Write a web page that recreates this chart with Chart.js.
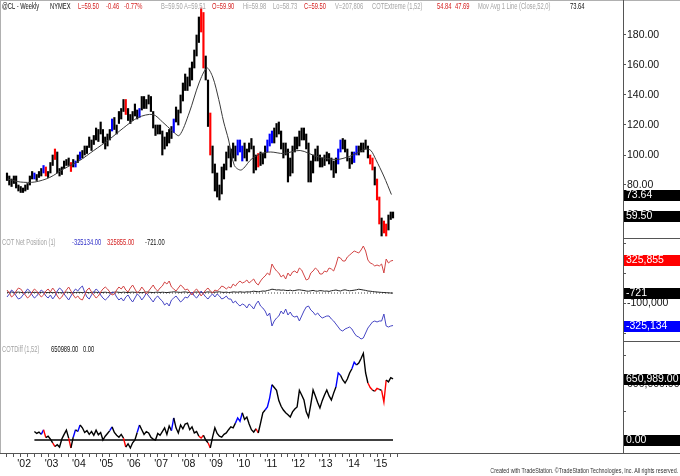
<!DOCTYPE html>
<html>
<head>
<meta charset="utf-8">
<title>@CL Weekly</title>
<script src="https://cdn.jsdelivr.net/npm/chart.js@4.4.1/dist/chart.umd.min.js"></script>
<style>
  html, body { margin: 0; padding: 0; background: #fff; }
  body { width: 680px; height: 476px; position: relative; overflow: hidden; font-family: Arial, "Liberation Sans", sans-serif; }
  canvas { position: absolute; left: 0; top: 0; }
  .t { position: absolute; white-space: nowrap; font-size: 8.5px; line-height: 10px; transform: scaleX(0.68); transform-origin: 0 50%; }
  .g { color: #a4a4a4; } .r { color: #d42020; } .k { color: #111; } .b { color: #3030c8; }
  .foot { position: absolute; right: 2px; top: 466px; font-size: 7px; line-height: 9px; color: #333; white-space: nowrap; transform: scaleX(0.76); transform-origin: 100% 50%; }
</style>
</head>
<body>
<canvas id="chart" width="680" height="476"></canvas>

<div class="t k" style="left:2px;top:1px">@CL - Weekly</div>
<div class="t k" style="left:50px;top:1px">NYMEX</div>
<div class="t r" style="left:78px;top:1px">L=59.50</div>
<div class="t r" style="left:106px;top:1px">-0.46</div>
<div class="t r" style="left:124px;top:1px">-0.77%</div>
<div class="t g" style="left:161px;top:1px">B=59.50</div>
<div class="t g" style="left:184px;top:1px">A=59.51</div>
<div class="t r" style="left:212px;top:1px">O=59.90</div>
<div class="t g" style="left:243px;top:1px">Hi=59.98</div>
<div class="t g" style="left:273px;top:1px">Lo=58.73</div>
<div class="t r" style="left:304px;top:1px">C=59.50</div>
<div class="t g" style="left:335px;top:1px">V=207,806</div>
<div class="t g" style="left:372px;top:1px">COTExtreme (1,52)</div>
<div class="t r" style="left:437px;top:1px">54.84</div>
<div class="t r" style="left:455px;top:1px">47.69</div>
<div class="t g" style="left:478px;top:1px">Mov Avg 1 Line (Close,52,0)</div>
<div class="t k" style="left:570px;top:1px">73.64</div>

<div class="t g" style="left:2px;top:237px">COT Net Position (1)</div>
<div class="t b" style="left:72px;top:237px">-325134.00</div>
<div class="t r" style="left:107px;top:237px">325855.00</div>
<div class="t k" style="left:145px;top:237px">-721.00</div>

<div class="t g" style="left:2px;top:344px">COTDiff (1,52)</div>
<div class="t k" style="left:51px;top:344px">650989.00</div>
<div class="t k" style="left:83px;top:344px">0.00</div>

<div class="foot">Created with TradeStation. ©TradeStation Technologies, Inc. All rights reserved.</div>

<script>
const firstMonth = 2001 + 4 / 12;

const priceHigh = [
  88, 86, 84, 86, 86, 80, 79, 78,
  80, 81, 86, 89, 88, 87, 89, 91, 93, 92, 89, 95,
  100, 104, 102, 91, 92, 96, 97, 98, 95, 97, 96, 100,
  102, 103, 106, 106, 112, 110, 113, 118, 117, 122, 117, 112,
  114, 117, 124, 125, 120, 129, 131, 137, 137, 131, 127, 129,
  134, 130, 131, 139, 139, 137, 140, 139, 129, 120, 120, 120,
  116, 112, 115, 117, 119, 124, 132, 130, 140, 148, 154, 152,
  158, 162, 170, 180, 192, 198, 195, 166, 150, 128, 106, 94,
  88, 80, 92, 94, 102, 106, 104, 108, 106, 110, 110, 106,
  108, 104, 108, 111, 106, 100, 101, 102, 101, 106, 110, 114,
  116, 118, 121, 122, 116, 108, 108, 104, 98, 106, 112, 112,
  116, 118, 118, 114, 108, 96, 100, 104, 106, 100, 98, 100,
  102, 101, 98, 96, 98, 104, 110, 111, 110, 104, 98, 102,
  102, 106, 106, 108, 108, 110, 106, 100, 98, 92, 84, 72,
  58, 56, 54, 60, 62, 62,
];

const priceLow = [
  83, 80, 79, 81, 78, 76, 75, 75,
  76, 77, 80, 84, 84, 83, 85, 86, 88, 86, 85, 88,
  93, 97, 88, 86, 87, 91, 93, 93, 89, 92, 92, 95,
  97, 98, 100, 101, 105, 103, 107, 110, 109, 114, 108, 104,
  106, 110, 116, 117, 114, 121, 124, 129, 127, 123, 121, 123,
  126, 124, 125, 130, 131, 131, 134, 129, 118, 113, 114, 114,
  100, 104, 106, 108, 111, 115, 122, 120, 128, 136, 143, 143,
  146, 150, 158, 166, 175, 182, 158, 150, 119, 100, 88, 76,
  72, 70, 74, 84, 90, 98, 92, 98, 96, 100, 102, 96,
  98, 96, 102, 104, 88, 90, 92, 93, 94, 98, 102, 106,
  108, 108, 112, 114, 104, 98, 100, 82, 86, 88, 102, 104,
  106, 110, 110, 104, 82, 82, 88, 96, 96, 92, 92, 93,
  96, 94, 90, 85, 88, 94, 102, 104, 102, 96, 91, 94,
  95, 100, 100, 102, 102, 104, 98, 94, 90, 80, 70, 54,
  46, 48, 46, 50, 57, 58,
];
const lastClose = 59.50;

// COTExtreme flags (month index): blue = extreme high, red = extreme low
const blueMonths = [12, 16, 30, 32, 46, 58, 73, 101, 102, 103, 114, 115, 116, 145, 146, 152, 153];
const redMonths = [17, 21, 28, 52, 85, 86, 89, 110, 159, 160, 162, 163, 165, 166];

// 52 week moving average
const maTimes = [2001.39, 2001.86, 2002.39, 2002.93, 2003.47, 2004.0, 2004.54, 2005.08, 2005.62, 2006.16,
  2006.7, 2007.05, 2007.41, 2007.66, 2008.02, 2008.38, 2008.67, 2008.88, 2009.1, 2009.28,
  2009.46, 2009.67, 2009.92, 2010.28, 2010.64, 2011.0, 2011.46, 2012.07, 2012.68, 2013.4,
  2013.86, 2014.11, 2014.47, 2014.65, 2014.83, 2015.12, 2015.4];
const maValues = [84, 82, 82, 85, 91, 96, 103, 110, 118, 125,
  127, 122, 116, 113, 128, 148, 158, 152, 137, 122,
  110, 93, 90, 97, 101, 102, 101, 103, 99, 97,
  99, 101, 104, 103, 97, 86, 73.64];

// COT net positions, thousands of contracts
const cotRed = [
  30, 0, -40, -20, 20, 50, 40, 10,
  -20, -50, -30, 10, 40, 20, -10, -40, -20, 20, 40, 10,
  50, 20, -30, -60, -40, 0, 30, 60, 20, -20, -50, -30,
  -60, -70, -20, 30, 50, 10, -20, -50, -30, 10, 40, 60,
  40, 10, -20, -10, 30, 60, 40, 70, 30, 10, 50, 80,
  40, 0, 20, 60, 30, -10, 20, 50, 80, 40, 20, 50,
  70, 110, 90, 120, 60, 40, 20, 50, 80, 60, 30, 40,
  10, -20, 20, 40, 10, -30, 0, 30, 50, 20, 0, 30,
  20, 40, 70, 60, 40, 60, 50, 90, 70, 100, 120, 100,
  110, 130, 100, 120, 140, 100, 80, 120, 150, 170, 200, 180,
  290, 250, 220, 200, 160, 180, 140, 200, 170, 210, 220, 200,
  250, 230, 180, 130, 140, 200, 220, 250, 230, 190, 190, 220,
  210, 250, 240, 220, 280, 360, 350, 320, 320, 360, 380, 400,
  420, 410, 400, 430, 470, 420, 330, 300, 290, 270, 280, 270,
  290, 200, 340, 300, 320, 325.855,
];
const cotBlue = [
  -40, -10, 30, 10, -30, -60, -50, -20,
  10, 40, 20, -20, -50, -30, 0, 30, 10, -30, -50, -20,
  -60, -30, 20, 50, 30, -10, -40, -70, -30, 10, 40, 20,
  50, 70, 10, -40, -60, -20, 10, 40, 20, -20, -50, -70,
  -50, -20, 10, 0, -40, -70, -50, -80, -40, -20, -60, -90,
  -50, -10, -30, -70, -40, 0, -30, -60, -90, -50, -30, -60,
  -80, -120, -100, -130, -70, -50, -30, -60, -90, -70, -40, -50,
  -20, 10, -30, -50, -20, 20, -10, -40, -60, -30, -10, -40,
  -10, -30, -60, -50, -30, -60, -60, -100, -80, -110, -130, -110,
  -120, -150, -110, -130, -160, -110, -80, -130, -150, -180, -230, -200,
  -330, -280, -250, -230, -180, -210, -160, -220, -190, -230, -240, -230,
  -280, -230, -180, -140, -130, -170, -190, -220, -200, -230, -250, -240,
  -230, -230, -260, -280, -310, -340, -370, -380, -360, -350, -340, -360,
  -400, -430, -440, -460, -450, -400, -350, -320, -290, -280, -290, -280,
  -280, -210, -330, -340, -330, -325.134,
];
const cotBlack = [
  8, 6, 10, 5, 7, 9, 6, 4,
  5, 8, 6, 4, 7, 5, 3, 6, 8, 5, 4, 6,
  3, 5, 7, 4, 2, 5, 8, 6, 4, 3, 5, 7,
  6, 4, 8, 5, 3, 6, 9, 7, 5, 4, 6, 8,
  5, 3, 6, 8, 10, 7, 5, 9, 6, 4, 7, 9,
  6, 8, 5, 3, 7, 10, 8, 6, 4, 7, 9, 5,
  8, 6, 4, 7, 9, 12, 10, 8, 6, 9, 11, 7,
  5, 3, 7, 10, 8, 6, 4, 8, 11, 9, 6, 8,
  10, 12, 8, 6, 9, 5, 7, 11, 10, 8, 12, 9,
  8, 12, 10, 14, 18, 15, 12, 16, 20, 18, 25, 30,
  38, 35, 30, 32, 28, 30, 26, 24, 28, 22, 25, 30,
  32, 28, 25, 20, 18, 22, 26, 20, 18, 24, 22, 18,
  20, 16, 22, 26, 30, 24, 20, 28, 32, 26, 22, 25,
  28, 32, 38, 34, 30, 26, 20, 18, 15, 12, 10, 8,
  6, 5, 3, 2, 0, -0.721,
];

// COTDiff (1,52), thousands, starts one year in
const diffStart = 12;
const cotDiff = [
  90, 70, 85, 60, 110, 25, 40, 10,
  -30, -70, -50, -75, 10, 60, 105, 20, -85, 30, 110, 90,
  160, 130, 80, 100, 60, 90, 50, 105, 55, 80, 0, 40,
  70, 100, 140, 80, 50, 30, 60, 20, -75, -40, -85, -30,
  0, 80, 160, 110, 60, 90, 75, 30, 10, 0, 70, 50,
  90, 130, 60, 150, 100, 235, 130, 75, 160, 120, 170, 180,
  110, 140, 75, 90, 40, 20, 50, 0, -30, -85, 30, 130,
  70, 40, 30, 60, 75, 110, 140, 130, 180, 235, 200, 290,
  220, 245, 170, 110, 85, 120, 75, 180, 290, 320, 352, 450,
  590, 560, 530, 420, 360, 320, 290, 270, 245, 300, 330, 352,
  530, 480, 427, 300, 245, 380, 533, 470, 400, 341, 420, 480,
  533, 470, 427, 500, 565, 715, 690, 640, 608, 650, 715, 760,
  830, 800, 820, 870, 925, 715, 608, 560, 533, 520, 550, 540,
  530, 405, 640, 620, 665, 650.989,
];

const firstYear = 2002;
const yearLabels = ["'02", "'03", "'04", "'05", "'06", "'07", "'08", "'09", "'10", "'11", "'12", "'13", "'14", "'15"];

// ---- build
const monthX = i => firstMonth + (i + 0.5) / 12;
const flag = i => blueMonths.includes(i) ? 1 : redMonths.includes(i) ? -1 : 0;
const flagColor = i => ({ 1: '#0000ff', '-1': '#ff0000', 0: '#000000' })[flag(i)];

const bars = priceHigh.map((h, i) => ({ x: monthX(i), y: [priceLow[i], h] }));
const ma = maTimes.map((t, i) => ({ x: t, y: maValues[i] }));
const red = cotRed.map((v, i) => ({ x: monthX(i), y: v }));
const blue = cotBlue.map((v, i) => ({ x: monthX(i), y: v }));
const black = cotBlack.map((v, i) => ({ x: monthX(i), y: v }));
const zeroCot = [{ x: monthX(0), y: 0 }, { x: monthX(cotRed.length - 1), y: 0 }];
const diff = cotDiff.map((v, i) => ({ x: monthX(i + diffStart), y: v }));
const zeroDiff = [{ x: monthX(diffStart), y: 0 }, { x: monthX(diffStart + cotDiff.length - 1), y: 0 }];

const tickFont = { family: 'Arial, "Liberation Sans", sans-serif', size: 10.5 };

function rightAxis(stackWeight, min, max, ticks, label) {
  return {
    type: 'linear', position: 'right', stack: 'panes', stackWeight: stackWeight,
    min: min, max: max,
    afterBuildTicks: s => { s.ticks = ticks.map(v => ({ value: v })); },
    afterFit: s => { s.width = 57; s.paddingTop = 0; s.paddingBottom = 0; },
    grid: { drawOnChartArea: false, drawTicks: true, tickLength: 3, tickColor: '#555' },
    border: { display: false },
    ticks: { font: tickFont, color: '#111', padding: 1, callback: label },
  };
}

const fmt = (v, d) => v.toLocaleString('en-US', { minimumFractionDigits: d, maximumFractionDigits: d });

const panels = {
  id: 'panels',
  afterDraw(chart) {
    const { ctx, chartArea: a, scales } = chart;
    const W = chart.width;
    ctx.save();
    ctx.lineWidth = 1;
    ctx.strokeStyle = '#b0b0b0';
    ctx.beginPath();
    ctx.moveTo(0, 0.5); ctx.lineTo(W, 0.5);
    ctx.moveTo(0.5, 0); ctx.lineTo(0.5, a.bottom);
    ctx.stroke();
    ctx.strokeStyle = '#555';
    ctx.beginPath();
    ctx.moveTo(a.right + 0.5, 0); ctx.lineTo(a.right + 0.5, a.bottom + 0.5);
    ctx.moveTo(0, a.bottom + 0.5); ctx.lineTo(W, a.bottom + 0.5);
    ctx.moveTo(a.right, scales.yP.bottom + 0.5); ctx.lineTo(W, scales.yP.bottom + 0.5);
    ctx.moveTo(a.right, scales.yC.bottom + 0.5); ctx.lineTo(W, scales.yC.bottom + 0.5);
    ctx.stroke();

    const last = arr => arr[arr.length - 1];
    const boxes = [
      ['yP', last(maValues), fmt(last(maValues), 2), '#000'],
      ['yP', lastClose, fmt(lastClose, 2), '#000'],
      ['yC', last(cotRed), fmt(Math.round(last(cotRed) * 1000), 0), '#ff0000'],
      ['yC', last(cotBlack), fmt(Math.round(last(cotBlack) * 1000), 0), '#000'],
      ['yC', last(cotBlue), fmt(Math.round(last(cotBlue) * 1000), 0), '#0000ff'],
      ['yD', last(cotDiff), fmt(last(cotDiff) * 1000, 2), '#000'],
      ['yD', 0, '0.00', '#000'],
    ];
    ctx.font = '10.5px Arial, "Liberation Sans", sans-serif';
    ctx.textBaseline = 'middle';
    ctx.textAlign = 'left';
    boxes.forEach(([id, v, txt, bg]) => {
      const y = Math.round(scales[id].getPixelForValue(v));
      ctx.fillStyle = bg;
      ctx.fillRect(a.right + 1, y - 5, W - a.right - 1, 11);
      ctx.fillStyle = '#fff';
      ctx.fillText(txt, a.right + 3, y + 0.5);
    });
    ctx.restore();
  },
};

new Chart(document.getElementById('chart'), {
  type: 'bar',
  data: {
    datasets: [
      { type: 'line', data: ma, yAxisID: 'yP', borderColor: '#3a3a3a', borderWidth: 1, pointRadius: 0, tension: 0.3 },
      { type: 'bar', data: bars, yAxisID: 'yP', backgroundColor: bars.map((b, i) => flagColor(i)), barThickness: 1.5, grouped: false },
      { type: 'line', data: red, yAxisID: 'yC', borderColor: '#d24444', borderWidth: 1, pointRadius: 0 },
      { type: 'line', data: blue, yAxisID: 'yC', borderColor: '#4646c4', borderWidth: 1, pointRadius: 0 },
      { type: 'line', data: black, yAxisID: 'yC', borderColor: '#222', borderWidth: 1, pointRadius: 0 },
      { type: 'line', data: zeroCot, yAxisID: 'yC', borderColor: '#444', borderWidth: 1, borderDash: [1, 2], pointRadius: 0 },
      {
        type: 'line', data: diff, yAxisID: 'yD', borderColor: '#000', borderWidth: 1.4, pointRadius: 0,
        segment: { borderColor: c => flagColor(c.p1DataIndex + diffStart) },
      },
      { type: 'line', data: zeroDiff, yAxisID: 'yD', borderColor: '#000', borderWidth: 1.4, pointRadius: 0 },
    ],
  },
  options: {
    responsive: false,
    animation: false,
    devicePixelRatio: 1,
    layout: { padding: { top: 2, left: 0, right: 0, bottom: 0 } },
    plugins: { legend: { display: false }, tooltip: { enabled: false } },
    scales: {
      x: {
        type: 'linear', position: 'bottom',
        min: 2002 - 19 / 27.9, max: 2002 + 604 / 27.9,
        afterBuildTicks: s => {
          const t = [];
          for (let q = 2001.5; q <= 2015.5; q += 0.25) t.push({ value: q });
          s.ticks = t;
        },
        afterFit: s => { s.height = 23; s.paddingLeft = 0; s.paddingRight = 0; },
        grid: { drawOnChartArea: false, drawTicks: true, tickLength: 4, tickColor: '#555' },
        border: { display: false },
        ticks: {
          font: tickFont, color: '#111', padding: 1, maxRotation: 0, autoSkip: false,
          callback: v => (Number.isInteger(v) && yearLabels[v - firstYear]) || '',
        },
      },
      yP: rightAxis(236, 100 - 83 / 1.5, 100 + 153 / 1.5, [60, 80, 100, 120, 140, 160, 180], v => fmt(v, 2)),
      yC: rightAxis(103, -480, 550, [-400, -300, -200, -100, 0, 100, 200, 300, 400, 500],
        v => (Math.abs(v) === 100 || Math.abs(v) === 300) ? fmt(v * 1000, 0) : ''),
      yD: rightAxis(112, -13 / 0.09375, 99 / 0.09375, [0, 100, 200, 300, 400, 500, 600, 700, 800, 900],
        v => (v % 200 === 0) ? fmt(v * 1000, 2) : ''),
    },
  },
  plugins: [panels],
});
</script>
</body>
</html>
